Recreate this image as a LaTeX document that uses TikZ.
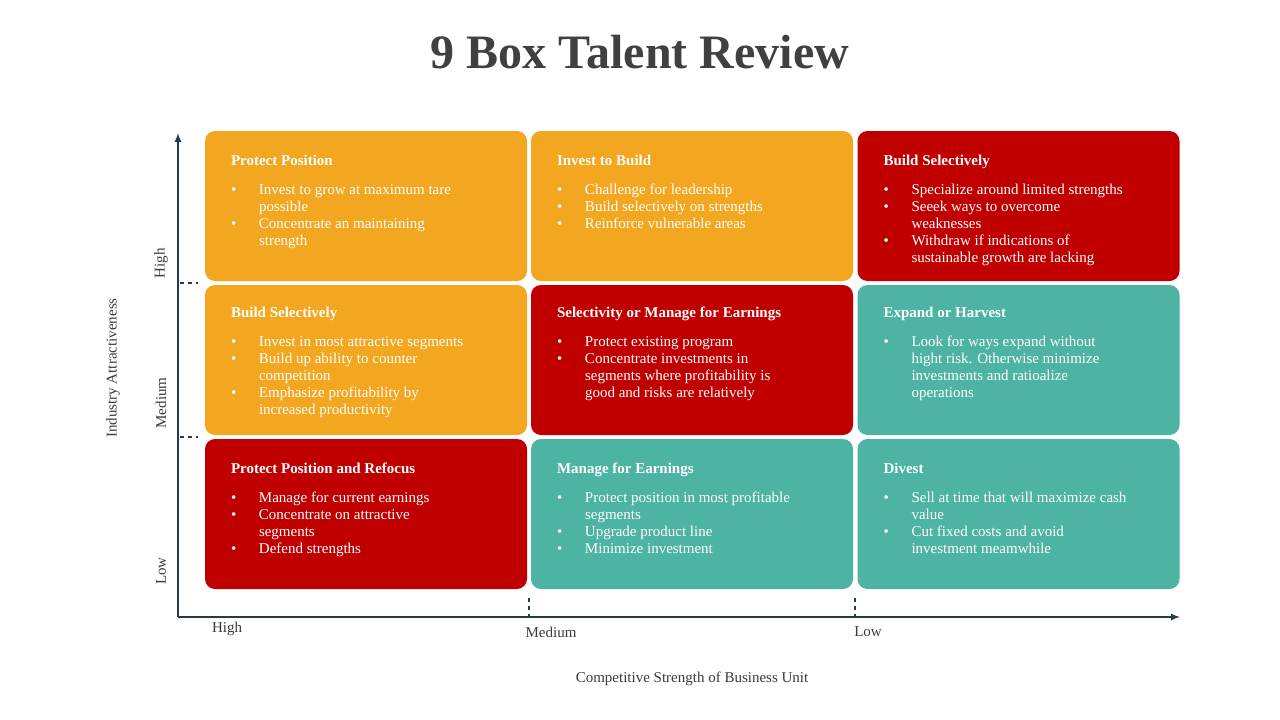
\documentclass[tikz,border=0pt]{standalone}
\usepackage{fontspec}
\setmainfont{Liberation Serif}
\usetikzlibrary{positioning}
\definecolor{boxorange}{HTML}{F3A61F}
\definecolor{boxred}{HTML}{C00000}
\definecolor{boxteal}{HTML}{4DB3A2}
\definecolor{axisblue}{HTML}{1F3D4D}
\definecolor{titlegray}{HTML}{404040}
\tikzset{
  cellbox/.style={fill=#1, rounded corners=10pt, minimum width=322pt, minimum height=150pt, inner sep=0pt},
  celltext/.style={anchor=north west, text=white, align=left, inner sep=0pt,
    font=\fontsize{15}{17}\selectfont},
  axislabel/.style={text=titlegray!90!black, font=\fontsize{15}{17}\selectfont},
  tick/.style={axisblue, line width=2pt, dash pattern=on 4pt off 4pt}
}
\newcommand{\itm}[1]{\makebox[28pt][l]{\textbullet}#1}
\newcommand{\cnt}[1]{\hspace*{28pt}#1}
\begin{document}
\begin{tikzpicture}[x=1pt,y=-1pt]
  \useasboundingbox (0,0) rectangle (1280,720);
  \node[font=\bfseries\fontsize{48}{52}\selectfont, text=titlegray] (title) at (640,52) {9 Box Talent Review};
  % boxes
  \node[cellbox=boxorange] (b11) at (366,206) {};
  \node[cellbox=boxorange] (b12) at (692,206) {};
  \node[cellbox=boxred]    (b13) at (1018.5,206) {};
  \node[cellbox=boxorange] (b21) at (366,360) {};
  \node[cellbox=boxred]    (b22) at (692,360) {};
  \node[cellbox=boxteal]   (b23) at (1018.5,360) {};
  \node[cellbox=boxred]    (b31) at (366,514) {};
  \node[cellbox=boxteal]   (b32) at (692,514) {};
  \node[cellbox=boxteal]   (b33) at (1018.5,514) {};
  % texts
  \node[celltext] (t11) at ([xshift=26pt,yshift=-24pt]b11.north west) {\textbf{Protect Position}\\[12pt]
    \itm{Invest to grow at maximum tare}\\ \cnt{possible}\\ \itm{Concentrate an maintaining}\\ \cnt{strength}};
  \node[celltext] (t12) at ([xshift=26pt,yshift=-24pt]b12.north west) {\textbf{Invest to Build}\\[12pt]
    \itm{Challenge for leadership}\\ \itm{Build selectively on strengths}\\ \itm{Reinforce vulnerable areas}};
  \node[celltext] (t13) at ([xshift=26pt,yshift=-24pt]b13.north west) {\textbf{Build Selectively}\\[12pt]
    \itm{Specialize around limited strengths}\\ \itm{Seeek ways to overcome}\\ \cnt{weaknesses}\\ \itm{Withdraw if indications of}\\ \cnt{sustainable growth are lacking}};
  \node[celltext] (t21) at ([xshift=26pt,yshift=-22pt]b21.north west) {\textbf{Build Selectively}\\[12pt]
    \itm{Invest in most attractive  segments}\\ \itm{Build up ability to counter}\\ \cnt{competition}\\ \itm{Emphasize profitability by}\\ \cnt{increased productivity}};
  \node[celltext] (t22) at ([xshift=26pt,yshift=-22pt]b22.north west) {\textbf{Selectivity or Manage for Earnings}\\[12pt]
    \itm{Protect existing program}\\ \itm{Concentrate investments in}\\ \cnt{segments where profitability is}\\ \cnt{good and risks are relatively}};
  \node[celltext] (t23) at ([xshift=26pt,yshift=-22pt]b23.north west) {\textbf{Expand or Harvest}\\[12pt]
    \itm{Look for ways expand without}\\ \cnt{hight risk. Otherwise minimize}\\ \cnt{investments and ratioalize}\\ \cnt{operations}};
  \node[celltext] (t31) at ([xshift=26pt,yshift=-24pt]b31.north west) {\textbf{Protect Position and Refocus}\\[12pt]
    \itm{Manage for current earnings}\\ \itm{Concentrate on attractive}\\ \cnt{segments}\\ \itm{Defend strengths}};
  \node[celltext] (t32) at ([xshift=26pt,yshift=-24pt]b32.north west) {\textbf{Manage for Earnings}\\[12pt]
    \itm{Protect position  in most profitable}\\ \cnt{segments}\\ \itm{Upgrade product  line}\\ \itm{Minimize investment}};
  \node[celltext] (t33) at ([xshift=26pt,yshift=-24pt]b33.north west) {\textbf{Divest}\\[12pt]
    \itm{Sell at time that will maximize cash}\\ \cnt{value}\\ \itm{Cut fixed costs and avoid}\\ \cnt{investment meamwhile}};
  % axes
  \coordinate (origin) at (178,617);
  \coordinate (ytop) at (178,133);
  \coordinate (xend) at (1180,617);
  \draw[axisblue, line width=2pt, -latex] (origin) -- (ytop);
  \draw[axisblue, line width=2pt, -latex] (origin) -- (xend);
  \draw[tick] (180,283) -- (198,283);
  \draw[tick] (180,437) -- (198,437);
  \draw[tick] (529,598) -- (529,616);
  \draw[tick] (855,598) -- (855,616);
  \node[axislabel, rotate=90] (yhigh) at (161,263) {High};
  \node[axislabel, rotate=90] (ymed) at (161,403) {Medium};
  \node[axislabel, rotate=90] (ylow) at (161,571) {Low};
  \node[axislabel, rotate=90] (ytitle) at (113,368) {Industry Attractiveness};
  \node[axislabel] (xhigh) at (227,629) {High};
  \node[axislabel] (xmed) at (551,632) {Medium};
  \node[axislabel] (xlow) at (868,632) {Low};
  \node[axislabel] (xtitle) at (692,679) {Competitive Strength of Business Unit};
\end{tikzpicture}
\end{document}
